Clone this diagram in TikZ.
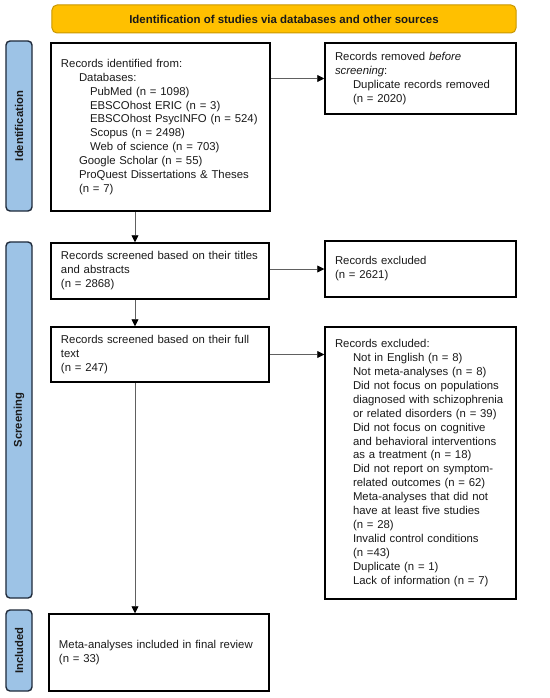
\documentclass[tikz,border=0pt]{standalone}
\usepackage{fontspec}
\setmainfont{Liberation Sans}
\usetikzlibrary{arrows.meta}
\definecolor{hdrfill}{HTML}{FFC000}
\definecolor{hdrdraw}{HTML}{C99700}
\definecolor{barfill}{HTML}{9DC3E6}
\definecolor{bardraw}{HTML}{1F2A3A}
\definecolor{arrgray}{HTML}{606060}
\definecolor{txt}{HTML}{1A1A1A}
\begin{document}
\begin{tikzpicture}[x=1bp,y=-1bp,
  every node/.style={font=\fontsize{11.4}{14}\selectfont, text=txt},
  box/.style={draw=black, line width=1.5bp, fill=white, inner xsep=10bp, inner ysep=4bp, align=left, anchor=center},
  hdr/.style={draw=hdrdraw, fill=hdrfill, line width=1bp, rounded corners=5bp, font=\fontsize{11.5}{13}\selectfont\bfseries},
  sidebar/.style={draw=bardraw, fill=barfill, line width=1.4bp, rounded corners=4bp, minimum width=26bp},
  sidelabel/.style={rotate=90, font=\fontsize{11.3}{13}\selectfont\bfseries},
  arr/.style={draw=arrgray, line width=0.8bp, -{Triangle[black,length=7bp,width=7bp]}}
]
\useasboundingbox (0,0) rectangle (550,698);
\fill[white] (0,0) rectangle (550,698);

\node[hdr, minimum width=464bp, minimum height=28bp] (hdr) at (284,19) {Identification of studies via databases and other sources};

\node[sidebar, minimum height=170bp] (sb1) at (19,126) {};
\node[sidelabel] (sl1) at (sb1.center) {Identification};
\node[sidebar, minimum height=356bp] (sb2) at (19,420) {};
\node[sidelabel] (sl2) at (sb2.center) {Screening};
\node[sidebar, minimum height=81bp] (sb3) at (19,650.5) {};
\node[sidelabel] (sl3) at (sb3.center) {Included};

\node[box, text width=199bp, minimum height=168bp] (b1) at (160.5,127) {Records identified from:\\
\hspace*{18bp}Databases:\\
\hspace*{29bp}PubMed (n = 1098)\\
\hspace*{29bp}EBSCOhost ERIC (n = 3)\\
\hspace*{29bp}EBSCOhost PsycINFO (n = 524)\\
\hspace*{29bp}Scopus (n = 2498)\\
\hspace*{29bp}Web of science (n = 703)\\
\hspace*{18bp}Google Scholar (n = 55)\\
\hspace*{18bp}ProQuest Dissertations \& Theses\\
\hspace*{18bp}(n = 7)};

\node[box, text width=171bp, minimum height=71bp] (b2) at (420.5,78.5) {Records removed \textit{before}\\
\textit{screening}:\\
\hspace*{18bp}Duplicate records removed\\
\hspace*{18bp}(n = 2020)};

\node[box, text width=198bp, minimum height=56bp] (b3) at (160,271) {Records screened based on their titles\\
and abstracts\\
(n = 2868)};

\node[box, text width=171bp, minimum height=56bp] (b4) at (420.5,269) {Records excluded\\
(n = 2621)};

\node[box, text width=198bp, minimum height=55bp] (b5) at (160,354.5) {Records screened based on their full\\
text\\
(n = 247)};

\node[box, text width=171bp, minimum height=272bp] (b6) at (420.5,463) {Records excluded:\\
\hspace*{18bp}Not in English (n = 8)\\
\hspace*{18bp}Not meta-analyses (n = 8)\\
\hspace*{18bp}Did not focus on populations\\
\hspace*{18bp}diagnosed with schizophrenia\\
\hspace*{18bp}or related disorders (n = 39)\\
\hspace*{18bp}Did not focus on cognitive\\
\hspace*{18bp}and behavioral interventions\\
\hspace*{18bp}as a treatment (n = 18)\\
\hspace*{18bp}Did not report on symptom-\\
\hspace*{18bp}related outcomes (n = 62)\\
\hspace*{18bp}Meta-analyses that did not\\
\hspace*{18bp}have at least five studies\\
\hspace*{18bp}(n = 28)\\
\hspace*{18bp}Invalid control conditions\\
\hspace*{18bp}(n =43)\\
\hspace*{18bp}Duplicate (n = 1)\\
\hspace*{18bp}Lack of information (n = 7)};

\node[box, text width=200bp, minimum height=77bp] (b7) at (159,652.5) {Meta-analyses included in final review\\
(n = 33)};

\coordinate (vx) at (135,0);
\draw[arr] (b2.west -| b1.east) -- (b2.west);
\draw[arr] (b4.west -| b3.east) -- (b4.west);
\draw[arr] (b5.east) -- (b6.west |- b5.east);
\draw[arr] (b1.south -| vx) -- (b3.north -| vx);
\draw[arr] (b3.south -| vx) -- (b5.north -| vx);
\draw[arr] (b5.south -| vx) -- (b7.north -| vx);
\end{tikzpicture}
\end{document}
